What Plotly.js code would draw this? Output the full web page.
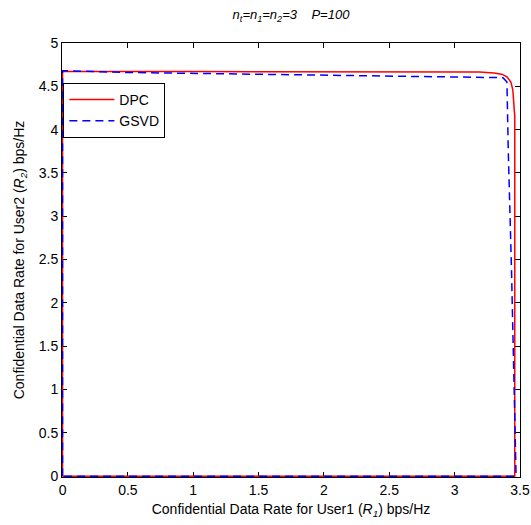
<!DOCTYPE html>
<html>
<head>
<meta charset="utf-8">
<script src="https://cdn.plot.ly/plotly-3.0.1.min.js"></script>
<style>html,body{margin:0;padding:0;background:#fff;}#chart{width:531px;height:525px;}</style>
</head>
<body>
<div id="chart"></div>
<script>
// DPC rate region boundary (R1, R2)
const dpcR1 = [0, 0, 1.0, 2.0, 3.0, 3.19, 3.30, 3.36, 3.40, 3.43, 3.445, 3.455, 3.46, 3.46, 3.46, 0];
const dpcR2 = [0, 4.67, 4.67, 4.67, 4.67, 4.665, 4.655, 4.64, 4.61, 4.55, 4.46, 4.30, 4.15, 2.0, 0, 0];
// GSVD rate region boundary (R1, R2)
const gsvdR1 = [0, 0, 0.5, 1.5, 2.3, 3.17, 3.37, 3.40, 3.41, 3.435, 3.47, 0];
const gsvdR2 = [0, 4.68, 4.66, 4.64, 4.63, 4.61, 4.60, 4.55, 3.77, 2.38, 0, 0];

const xTicks = [0, 0.5, 1, 1.5, 2, 2.5, 3, 3.5];
const yTicks = [0, 0.5, 1, 1.5, 2, 2.5, 3, 3.5, 4, 4.5, 5];

const font = "Liberation Sans, Arial, Helvetica, sans-serif";

const traces = [
  {x: dpcR1, y: dpcR2, mode: 'lines', name: 'DPC',
   line: {color: '#ff0000', width: 1.5}},
  {x: gsvdR1, y: gsvdR2, mode: 'lines', name: 'GSVD',
   line: {color: '#0000ff', width: 1.5, dash: '8px,5px'}}
];

const axisCommon = {
  showgrid: false, zeroline: false, showline: true, linecolor: '#000', linewidth: 1,
  mirror: 'ticks', ticks: 'inside', ticklen: 5, tickcolor: '#000', tickwidth: 1,
  layer: 'below traces', tickfont: {family: font, size: 14, color: '#000'}
};

const layout = {
  width: 531, height: 525,
  margin: {l: 62, r: 11, t: 43, b: 48},
  paper_bgcolor: '#fff', plot_bgcolor: '#fff',
  showlegend: true,
  title: {text: '<i>n<sub>t</sub>=n<sub>1</sub>=n<sub>2</sub>=3&nbsp;&nbsp;&nbsp;&nbsp;P=100</i>',
          font: {family: font, size: 13, color: '#000'},
          x: 0.5, xref: 'paper', y: 0.972, yref: 'container', yanchor: 'middle'},
  xaxis: Object.assign({}, axisCommon, {
    range: [-0.004, 3.5], tickvals: xTicks, ticktext: xTicks.map(String),
    title: {text: 'Confidential Data Rate for User1 (<i>R<sub>1</sub></i>) bps/Hz',
            font: {family: font, size: 14, color: '#000'}, standoff: 7}
  }),
  yaxis: Object.assign({}, axisCommon, {
    range: [-0.01, 5], tickvals: yTicks, ticktext: yTicks.map(String),
    title: {text: 'Confidential Data Rate for User2 (<i>R<sub>2</sub></i>) bps/Hz',
            font: {family: font, size: 14, color: '#000'}, standoff: 10}
  }),
  legend: {x: 0.003, y: 0.908, xanchor: 'left', yanchor: 'top',
           bordercolor: '#000', borderwidth: 1, bgcolor: '#fff', itemwidth: 45,
           font: {family: font, size: 14, color: '#000'}, tracegroupgap: 0}
};

Plotly.newPlot('chart', traces, layout, {displayModeBar: false, staticPlot: true});
</script>
</body>
</html>
